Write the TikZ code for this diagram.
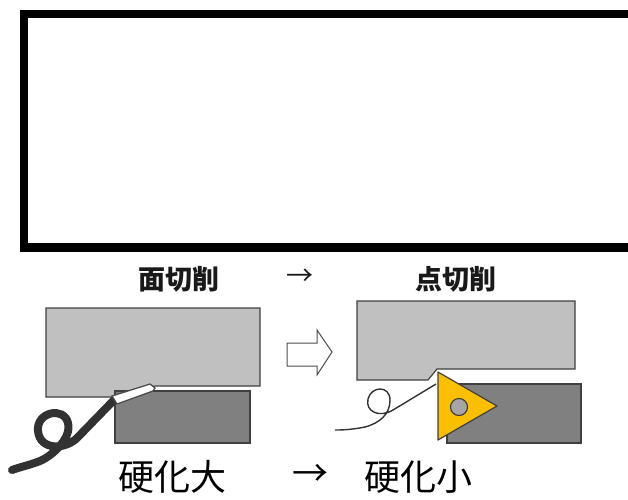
\documentclass[tikz,border=0pt]{standalone}
\usepackage{fontspec}
\newfontfamily\jpfont{Noto Sans CJK JP}
\definecolor{piece}{RGB}{192,192,192}
\definecolor{support}{RGB}{128,128,128}
\definecolor{plaquette}{RGB}{250,192,0}
\definecolor{copeau}{RGB}{50,50,50}

\begin{document}
\begin{tikzpicture}[x=1pt,y=-1pt,
    titre/.style={font=\jpfont\bfseries\fontsize{27}{29}\selectfont, text=black!90},
    bilan/.style={font=\jpfont\fontsize{36}{40}\selectfont, text=black},
    contour/.style={draw=black!75, line width=1.2pt}]

    % cadre et zone utile
    \useasboundingbox (0,0) rectangle (628,499);
    \clip (0,0) rectangle (628,499);
    \draw[line width=8.5pt] (24,14) rectangle (640,247.5);

    % titres
    \node[titre] (face) at (179,279) {面切削};
    \node[titre,font=\jpfont\fontsize{27}{29}\selectfont] (fleche) at (300,277) {→};
    \node[titre] (point) at (456,279) {点切削};

    % usinage de face : piece, support et copeau
    \draw[contour,fill=piece] (46,308) -- (260,308) -- (260,386) -- (155,386) -- (113,397) -- (46,397) -- cycle;
    \draw[contour,fill=support] (115,391) rectangle (250,443);
    \draw[copeau,line width=8pt,line cap=round] (114,400) -- (78,437)
        .. controls (66,450) and (40,451) .. (38,431)
        .. controls (36,412) and (64,406) .. (68,423)
        .. controls (72,438) and (52,456) .. (40,461)
        .. controls (30,465) and (20,467) .. (12,470);
    \draw[draw=black!70,line width=1.3pt,fill=white] (112,396) -- (150,384) -- (155,388) -- (153,391) -- (117,404) -- cycle;

    % fleche de passage
    \draw[draw=black!70,line width=1pt,fill=white] (287,343) -- (317,343) -- (317,330) -- (332,352) -- (317,375) -- (317,366) -- (287,366) -- cycle;

    % usinage en point : piece, support, plaquette et copeau
    \draw[contour,fill=piece] (357,301) -- (575,301) -- (575,369) -- (437,369) -- (428,380) -- (357,380) -- cycle;
    \draw[contour,fill=support] (447,384) rectangle (581,443);
    \draw[copeau,line width=1.4pt] (436,384) -- (393,410)
        .. controls (380,418) and (365,412) .. (368,399)
        .. controls (371,386) and (390,385) .. (390,400)
        .. controls (390,414) and (380,423) .. (365,427)
        .. controls (350,430) and (340,430) .. (335,430);
    \coordinate (T1) at (438,372);
    \coordinate (T2) at (497,406);
    \coordinate (T3) at (438,440);
    \draw[draw=black!75,line width=1.2pt,fill=plaquette,line join=round] (T1) -- (T2) -- (T3) -- cycle;
    \draw[draw=black!75,line width=1.2pt,fill=gray!70] (459,407) circle (8.5);

    % conclusions
    \node[bilan] (grand) at (172,477) {硬化大};
    \node[bilan] (versbilan) at (310,475) {→};
    \node[bilan] (petit) at (418,477) {硬化小};
\end{tikzpicture}
\end{document}
